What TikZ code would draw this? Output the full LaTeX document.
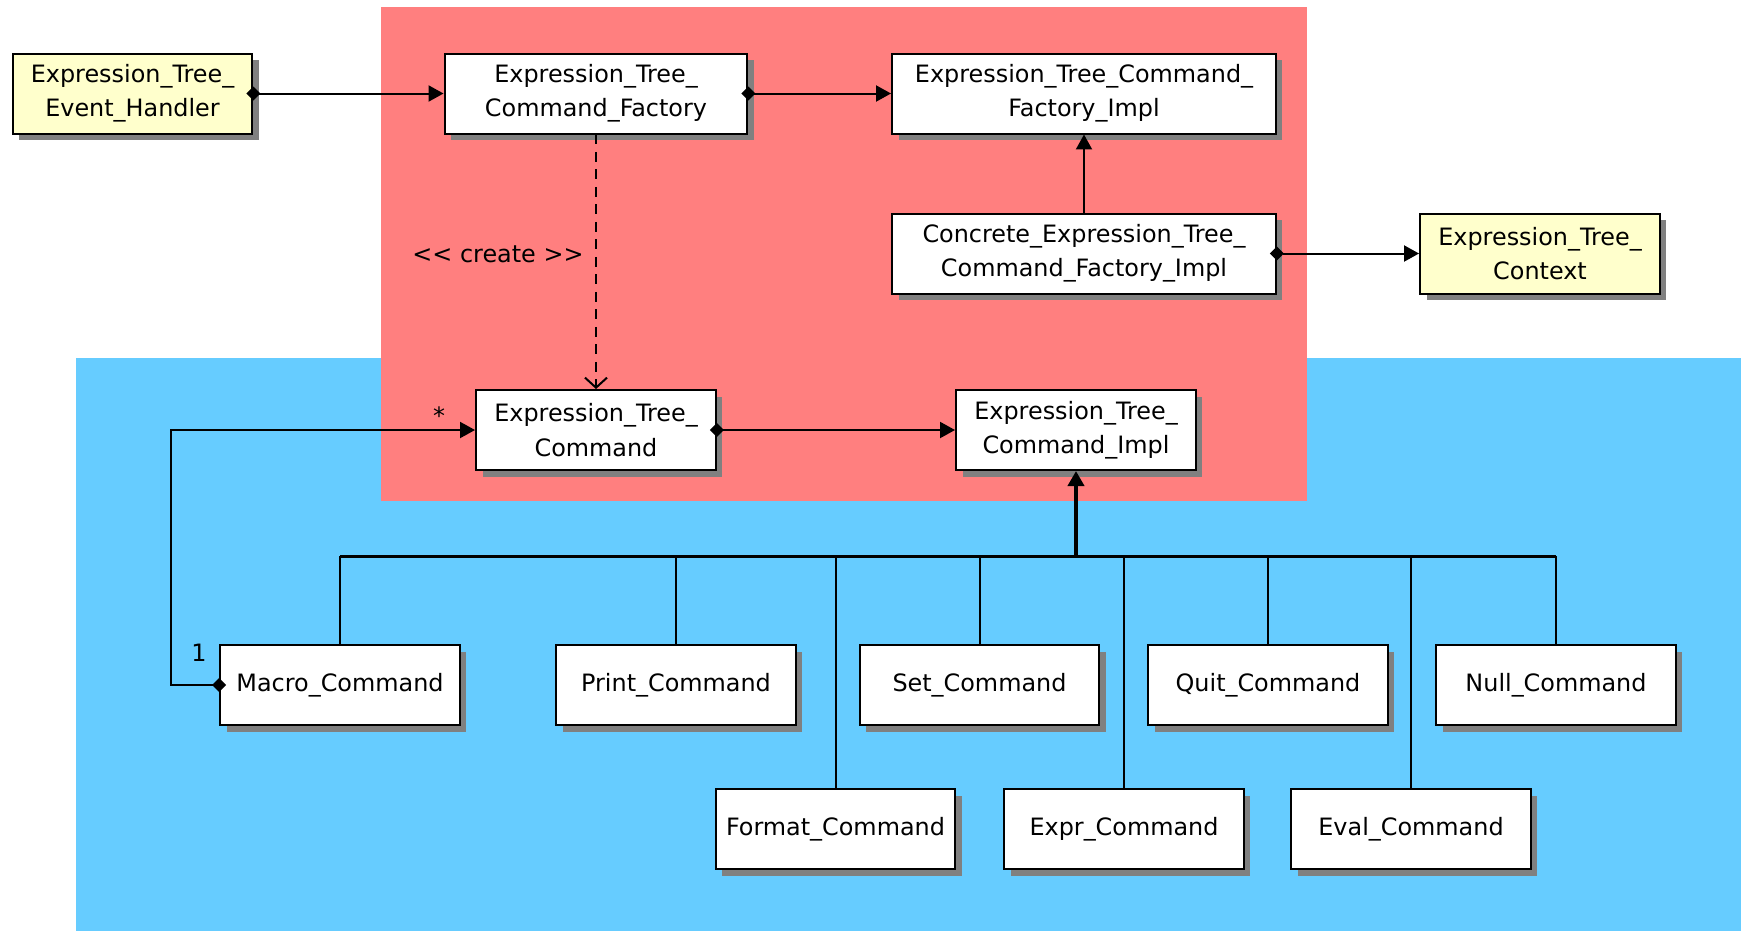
\documentclass[tikz,border=0pt]{standalone}
\usepackage{fontspec}
\setmainfont{DejaVu Sans}
\usepackage{xcolor}
\usetikzlibrary{arrows.meta,positioning,shadows}

\definecolor{layerred}{HTML}{FF7F7F}
\definecolor{layerblue}{HTML}{66CCFF}
\definecolor{ctxyellow}{HTML}{FFFFCC}
\definecolor{shadowgray}{HTML}{808080}

\begin{document}
\begin{tikzpicture}[
    x=0.02cm, y=-0.02cm,
    font=\fontsize{13.6pt}{19.6pt}\selectfont,
    cls/.style={draw, line width=0.04cm, fill=white, align=center,
      minimum width=4.8cm, minimum height=1.6cm, inner sep=2pt,
      drop shadow={shadow xshift=0.13cm, shadow yshift=-0.13cm,
        fill=shadowgray, opacity=1}},
    ext/.style={cls, fill=ctxyellow},
    widebox/.style={minimum width=6.06cm},
    widerbox/.style={minimum width=7.68cm},
    conn/.style={line width=0.04cm},
    owns/.style={conn, {Diamond[length=0.28cm,width=0.28cm]}-{Triangle[length=0.3cm,width=0.32cm]},
      shorten <=-0.14cm},
    isa/.style={conn, -{Triangle[length=0.3cm,width=0.32cm]}},
    makes/.style={conn, dash pattern=on 0.2cm off 0.15cm,
      -{Straight Barb[length=0.2cm,width=0.44cm]}},
    mult/.style={inner sep=0pt, anchor=south},
  ]
    \useasboundingbox (0,0) rectangle (1741,931);

    % --- layers ---
    \fill[layerblue] (76,358) rectangle (1741,931);
    \fill[layerred] (381,7) rectangle (1307,501);

    % --- factory side ---
    \node[ext] (handler) at (132.5,93.5) {Expression\_Tree\_\\Event\_Handler};
    \node[cls, widebox] (factory) at (596,93.5) {Expression\_Tree\_\\Command\_Factory};
    \node[cls, widerbox] (factimpl) at (1084,93.5)
      {Expression\_Tree\_Command\_\\Factory\_Impl};
    \node[cls, widerbox] (concrete) at (1084,253.5)
      {Concrete\_Expression\_Tree\_\\Command\_Factory\_Impl};
    \node[ext] (context) at (1540,253.5) {Expression\_Tree\_\\Context};
    \draw[owns] (handler) -- (factory);
    \draw[owns] (factory) -- (factimpl);
    \draw[isa] (concrete) -- (factimpl);
    \draw[owns] (concrete) -- (context);

    % --- command bridge ---
    \node[cls] (command) at (596,430) {Expression\_Tree\_\\Command};
    \node[cls] (cmdimpl) at (1076,430) {Expression\_Tree\_\\Command\_Impl};
    \draw[owns] (command) -- (cmdimpl);
    \node (create) at (498,254) {<{}< create >{}>};
    \draw[makes] (factory.south) -- (command.north);

    % --- concrete commands ---
    \node[cls] (macro) at (340,685) {Macro\_Command};
    \node[cls] (print) at (676,685) {Print\_Command};
    \node[cls] (set) at (979.5,685) {Set\_Command};
    \node[cls] (quit) at (1268,685) {Quit\_Command};
    \node[cls] (null) at (1556,685) {Null\_Command};
    \node[cls] (format) at (835.5,829) {Format\_Command};
    \node[cls] (expr) at (1124,829) {Expr\_Command};
    \node[cls] (eval) at (1411,829) {Eval\_Command};

    % inheritance bus
    \coordinate (junction) at (1076,556);
    \draw[isa, line width=0.08cm] (junction) -- (cmdimpl.south);
    \draw[conn, line width=0.06cm] (macro.north |- junction) -- (null.north |- junction);
    \foreach \c in {macro,print,format,set,expr,quit,eval,null}
      \draw[conn] (\c.north) -- (\c.north |- junction);

    % macro holds a list of commands
    \draw[owns] (macro.west) -- ++(-48,0) |- (command.west);
    \node[mult] (many) at (439,425) {*};
    \node[mult] (one) at (199,662) {1};
  \end{tikzpicture}
\end{document}
